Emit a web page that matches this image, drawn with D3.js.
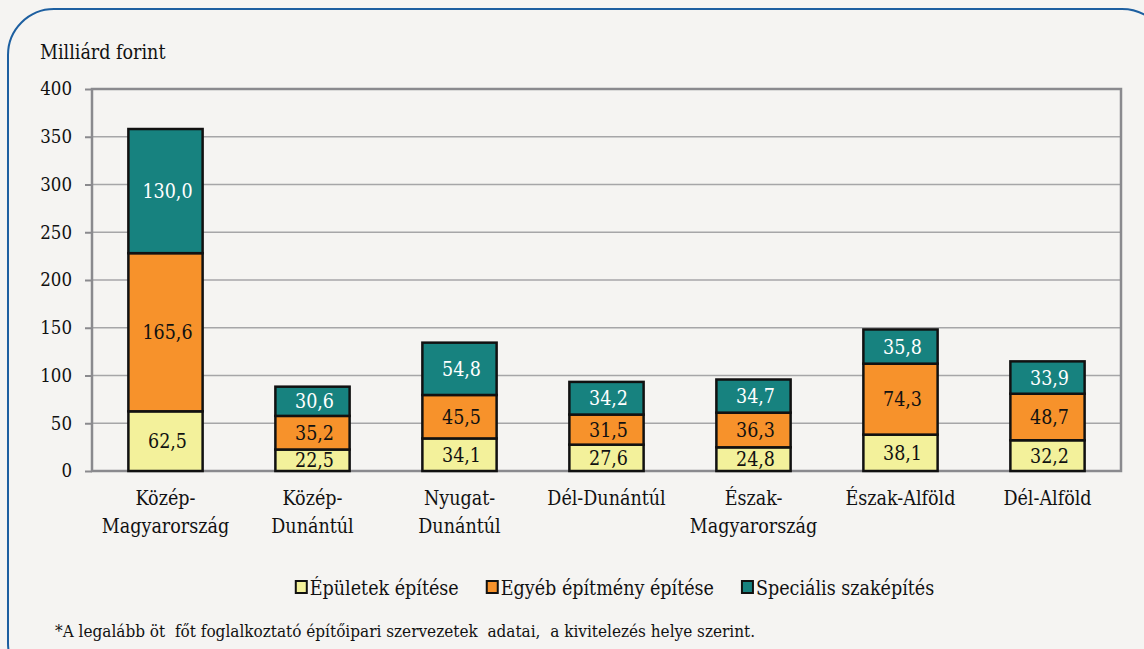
<!DOCTYPE html>
<html><head><meta charset="utf-8">
<script src="https://cdn.jsdelivr.net/npm/d3@7"></script>
<style>
html,body{margin:0;padding:0;background:#f5f4f2;}
svg{display:block;}
</style></head>
<body>
<svg id="c" width="1144" height="649"></svg>
<script>
const categories = [["Közép-","Magyarország"],["Közép-","Dunántúl"],["Nyugat-","Dunántúl"],["Dél-Dunántúl"],["Észak-","Magyarország"],["Észak-Alföld"],["Dél-Alföld"]];
const seriesNames = ["Épületek építése","Egyéb építmény építése","Speciális szaképítés"];
const epuletek = [62.5,22.5,34.1,27.6,24.8,38.1,32.2];
const egyeb = [165.6,35.2,45.5,31.5,36.3,74.3,48.7];
const specialis = [130.0,30.6,54.8,34.2,34.7,35.8,33.9];
const yTicks = [0,50,100,150,200,250,300,350,400];
const colors = ["#f3f19b","#f7922b","#17827f"];
const labelColors = ["#111","#111","#ffffff"];
const FONT = "'DejaVu Serif Condensed', 'DejaVu Serif'";

const svg = d3.select("#c");
svg.append("rect").attr("x",8).attr("y",9).attr("width",1160).attr("height",680)
  .attr("rx",46).attr("ry",46).attr("fill","#f5f4f2").attr("stroke","#1d5fa0").attr("stroke-width",2);

const L=92,R=1121,T=89,B=471;
const x = d3.scaleBand().domain(d3.range(categories.length)).range([L,R]).paddingInner(0.495).paddingOuter(0.2475);
const y = d3.scaleLinear().domain([0,400]).range([B,T]);

svg.append("g").selectAll("line").data(yTicks.slice(1,-1)).join("line")
  .attr("x1",L).attr("x2",R).attr("y1",d=>y(d)).attr("y2",d=>y(d))
  .attr("stroke","#a6a6a8").attr("stroke-width",1.5);

const ya = d3.axisLeft(y).tickValues(yTicks).tickSize(7).tickFormat(d=>d);
const g = svg.append("g").attr("transform",`translate(${L},0)`).call(ya);
g.attr("font-family",FONT).attr("font-size",18.5);
g.select(".domain").remove();
g.selectAll(".tick line").attr("stroke","#8a8a8e").attr("stroke-width",2);
g.selectAll(".tick text").attr("fill","#111").attr("x",-20);

svg.append("rect").attr("x",L).attr("y",T).attr("width",R-L).attr("height",B-T)
  .attr("fill","none").attr("stroke","#8a8a8e").attr("stroke-width",2.5);

const data = categories.map((c,i)=>({i, v:[epuletek[i],egyeb[i],specialis[i]]}));
const stack = d3.stack().keys([0,1,2]).value((d,k)=>d.v[k]);
const series = stack(data);

series.forEach((s,k)=>{
  const gg = svg.append("g");
  gg.selectAll("rect").data(s).join("rect")
    .attr("x",d=>x(d.data.i)).attr("width",x.bandwidth())
    .attr("y",d=>y(d[1])).attr("height",d=>y(d[0])-y(d[1]))
    .attr("fill",colors[k]).attr("stroke","#111").attr("stroke-width",2.5);
  gg.selectAll("text").data(s).join("text")
    .attr("font-family",FONT)
    .attr("x",d=>x(d.data.i)+x.bandwidth()/2+2)
    .attr("y",d=>(y(d[0])+y(d[1]))/2+7)
    .attr("text-anchor","middle").attr("font-size",19.5).attr("fill",labelColors[k])
    .text(d=>d3.format(".1f")(d[1]-d[0]).replace(".",","));
});

categories.forEach((c,i)=>{
  const t = svg.append("text").attr("font-family",FONT).attr("text-anchor","middle").attr("font-size",19.5).attr("fill","#111")
    .attr("x",x(i)+x.bandwidth()/2).attr("y",505);
  c.forEach((line,j)=>t.append("tspan").attr("x",x(i)+x.bandwidth()/2).attr("dy",j?28:0).text(line));
});

svg.append("text").attr("font-family",FONT).attr("x",40).attr("y",59).attr("font-size",19.5).attr("fill","#111").text("Milliárd forint");

const leg = svg.append("g");
let cx = 0;
seriesNames.forEach((n,k)=>{
  leg.append("rect").attr("x",cx).attr("y",581).attr("width",11).attr("height",12)
    .attr("fill",colors[k]).attr("stroke","#111").attr("stroke-width",2);
  const t = leg.append("text").attr("font-family",FONT).attr("x",cx+14).attr("y",595).attr("font-size",19.5).attr("fill","#111").text(n);
  cx += 14 + t.node().getComputedTextLength() + (k<2?28:0);
});
leg.attr("transform",`translate(${615-cx/2},0)`);

svg.append("text").attr("font-family",FONT).attr("x",55).attr("y",637).attr("font-size",17).attr("fill","#111")
  .style("white-space","pre")
  .text("*A legalább öt  főt foglalkoztató építőipari szervezetek  adatai,  a kivitelezés helye szerint.");
</script>
</body></html>
